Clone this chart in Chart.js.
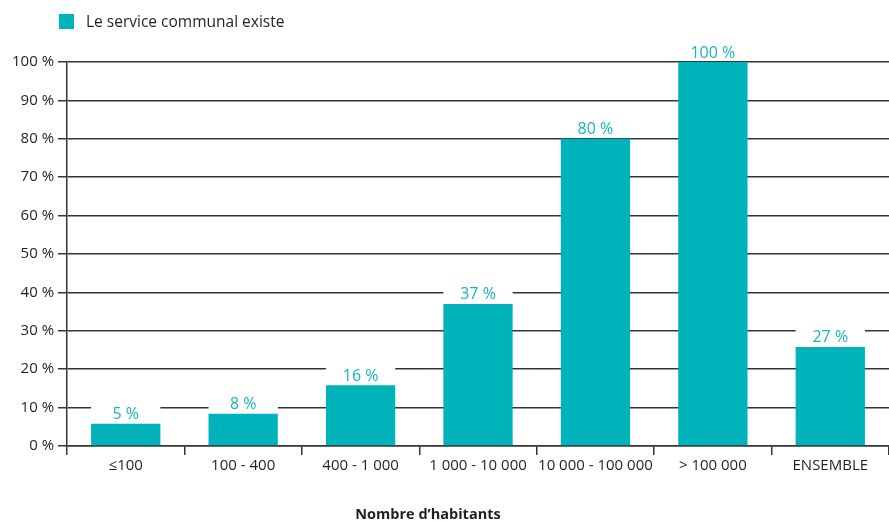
<!DOCTYPE html>
<html>
<head>
<meta charset="utf-8">
<script src="https://cdn.jsdelivr.net/npm/chart.js@4"></script>
<style>
  html, body { margin: 0; padding: 0; background: #fff; }
  #wrap { position: relative; width: 889px; height: 522px; }
  #legend { position: absolute; left: 59px; top: 10px; font: 15.5px "Open Sans", sans-serif; color: #231f20; display: flex; align-items: center; }
  #legend span.box { display: inline-block; width: 15px; height: 15px; background: #00B3BA; margin-right: 12px; }
</style>
</head>
<body>
<div id="wrap">
  <div id="legend"><span class="box"></span><span id="legendText"></span></div>
  <canvas id="c" width="889" height="522"></canvas>
</div>
<script>
const categories = ["≤100", "100 - 400", "400 - 1 000", "1 000 - 10 000", "10 000 - 100 000", "> 100 000", "ENSEMBLE"];
const seriesName = "Le service communal existe";
const values = [5.8, 8.4, 15.8, 37, 80, 100, 25.8];
const valueLabels = ["5 %", "8 %", "16 %", "37 %", "80 %", "100 %", "27 %"];
const xTitle = "Nombre d’habitants";

const BAR = "#00B3BA";
const LABEL = "#1BB4BE";
const GRID = "#353535";
const TEXT = "#231f20";
const FONT = '"Open Sans", sans-serif';

document.getElementById('legendText').textContent = seriesName;

const labelPlugin = {
  id: 'valueLabels',
  afterDatasetsDraw(chart) {
    const ctx = chart.ctx;
    const meta = chart.getDatasetMeta(0);
    ctx.save();
    meta.data.forEach((bar, i) => {
      const w = bar.width;
      ctx.fillStyle = '#ffffff';
      ctx.fillRect(bar.x - w / 2, bar.y - 21, w, 20);
      ctx.fillStyle = LABEL;
      ctx.font = '16px ' + FONT;
      ctx.textAlign = 'center';
      ctx.textBaseline = 'bottom';
      ctx.fillText(valueLabels[i], bar.x, bar.y - 1);
    });
    ctx.restore();
  }
};

const titlePlugin = {
  id: 'xTitle',
  afterDraw(chart) {
    const ctx = chart.ctx;
    ctx.save();
    ctx.fillStyle = TEXT;
    ctx.font = 'bold 14.5px ' + FONT;
    ctx.textAlign = 'center';
    ctx.textBaseline = 'middle';
    ctx.fillText(xTitle, 428, 515);
    ctx.restore();
  }
};

new Chart(document.getElementById('c'), {
  type: 'bar',
  data: {
    labels: categories,
    datasets: [{
      label: seriesName,
      data: values,
      backgroundColor: BAR,
      borderWidth: 0,
      barPercentage: 0.59,
      categoryPercentage: 1.0
    }]
  },
  options: {
    responsive: false,
    animation: false,
    devicePixelRatio: 1,
    layout: { padding: { top: 62, right: 0, left: 8, bottom: 45 } },
    plugins: {
      legend: { display: false },
      tooltip: { enabled: false }
    },
    scales: {
      x: {
        offset: true,
        grid: { display: true, drawOnChartArea: false, drawTicks: true, tickLength: 9, offset: true, color: GRID, lineWidth: 1.5 },
        border: { display: true, color: GRID, width: 1.5 },
        ticks: { color: TEXT, font: { family: FONT, size: 15 }, padding: 2, maxRotation: 0, autoSkip: false }
      },
      y: {
        min: 0, max: 100,
        grid: { color: GRID, lineWidth: 1.5, drawTicks: true, tickLength: 9 },
        border: { display: true, color: GRID, width: 1.5 },
        ticks: { stepSize: 10, color: TEXT, font: { family: FONT, size: 15 }, padding: 4,
          callback: v => v + ' %' }
      }
    }
  },
  plugins: [labelPlugin, titlePlugin]
});
</script>
</body>
</html>
